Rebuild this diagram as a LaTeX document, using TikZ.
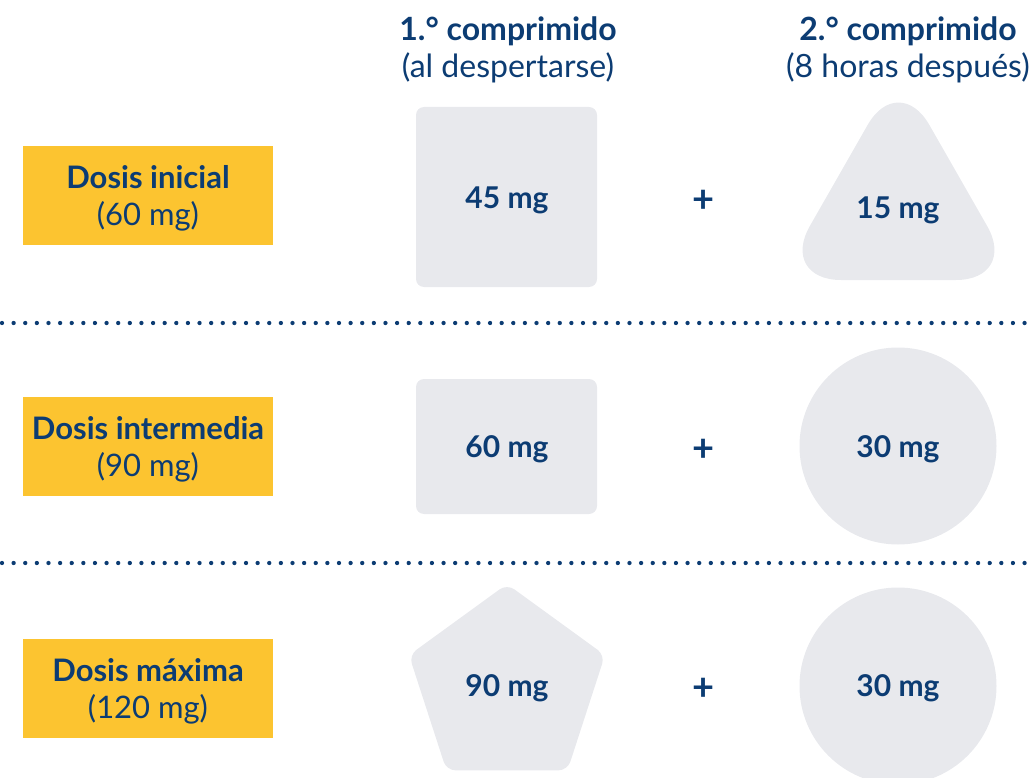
\documentclass[tikz,border=0pt]{standalone}
\usepackage{fontspec}
\setmainfont{Lato}
\definecolor{navy}{HTML}{0C3C73}
\definecolor{gold}{HTML}{FCC430}
\definecolor{pill}{HTML}{E8E9ED}
\begin{document}
\begin{tikzpicture}[x=1pt,y=-1pt,
  hdr/.style={text=navy,align=center,font=\fontsize{32}{37}\selectfont},
  dosebox/.style={fill=gold,minimum width=250pt,minimum height=99pt,inner sep=0pt},
  dosetxt/.style={text=navy,align=center,font=\fontsize{31}{37}\selectfont},
  pilltxt/.style={text=navy,font=\fontsize{30}{30}\selectfont\bfseries},
  pillshape/.style={fill=pill},
  plus/.style={text=navy,font=\fontsize{38}{38}\selectfont\bfseries},
  dotline/.style={navy,line width=4.3pt,line cap=round,dash pattern=on 0pt off 11.62pt}]
\useasboundingbox (0,0) rectangle (1031,778);
% headers
\node[hdr] (h1) at (508,50) {\textbf{1.° comprimido}\\(al despertarse)};
\node[hdr] (h2) at (908,50) {\textbf{2.° comprimido}\\(8 horas después)};
% dose boxes
\node[dosebox] (d1) at (148,195.5) {};
\node[dosetxt] (t1) at (148,198) {\textbf{Dosis inicial}\\(60 mg)};
\node[dosebox] (d2) at (148,446.5) {};
\node[dosetxt] (t2) at (148,449) {\textbf{Dosis intermedia}\\(90 mg)};
\node[dosebox] (d3) at (148,688.5) {};
\node[dosetxt] (t3) at (148,691) {\textbf{Dosis máxima}\\(120 mg)};
% separators
\coordinate (s1a) at (2,323); \coordinate (s1b) at (1031,323);
\coordinate (s2a) at (2,563); \coordinate (s2b) at (1031,563);
\draw[dotline] (s1a) -- (s1b);
\draw[dotline] (s2a) -- (s2b);
% row 1
\fill[pillshape,rounded corners=8pt] (416,107) rectangle (597,287);
\node[pilltxt] (p1a) at (507,200) {45 mg};
\node[plus] (plus1) at (704,201) {+};
\fill[pillshape,rounded corners=62pt] (898.5,71) -- (1018,280) -- (779,280) -- cycle;
\node[pilltxt] (p1b) at (898,210) {15 mg};
% row 2
\fill[pillshape,rounded corners=8pt] (416,379) rectangle (597,514);
\node[pilltxt] (p2a) at (507,449) {60 mg};
\node[plus] (plus2) at (704,450) {+};
\fill[pillshape] (898,446) circle (98.5);
\node[pilltxt] (p2b) at (898,449) {30 mg};
% row 3
\fill[pillshape,rounded corners=9pt]
  (507,584) -- (604.96,655.17) -- (567.54,770.33) -- (446.46,770.33) -- (409.04,655.17) -- cycle;
\node[pilltxt] (p3a) at (507,688) {90 mg};
\node[plus] (plus3) at (704,689) {+};
\fill[pillshape] (898,686) circle (98.5);
\node[pilltxt] (p3b) at (898,688) {30 mg};
\end{tikzpicture}
\end{document}
